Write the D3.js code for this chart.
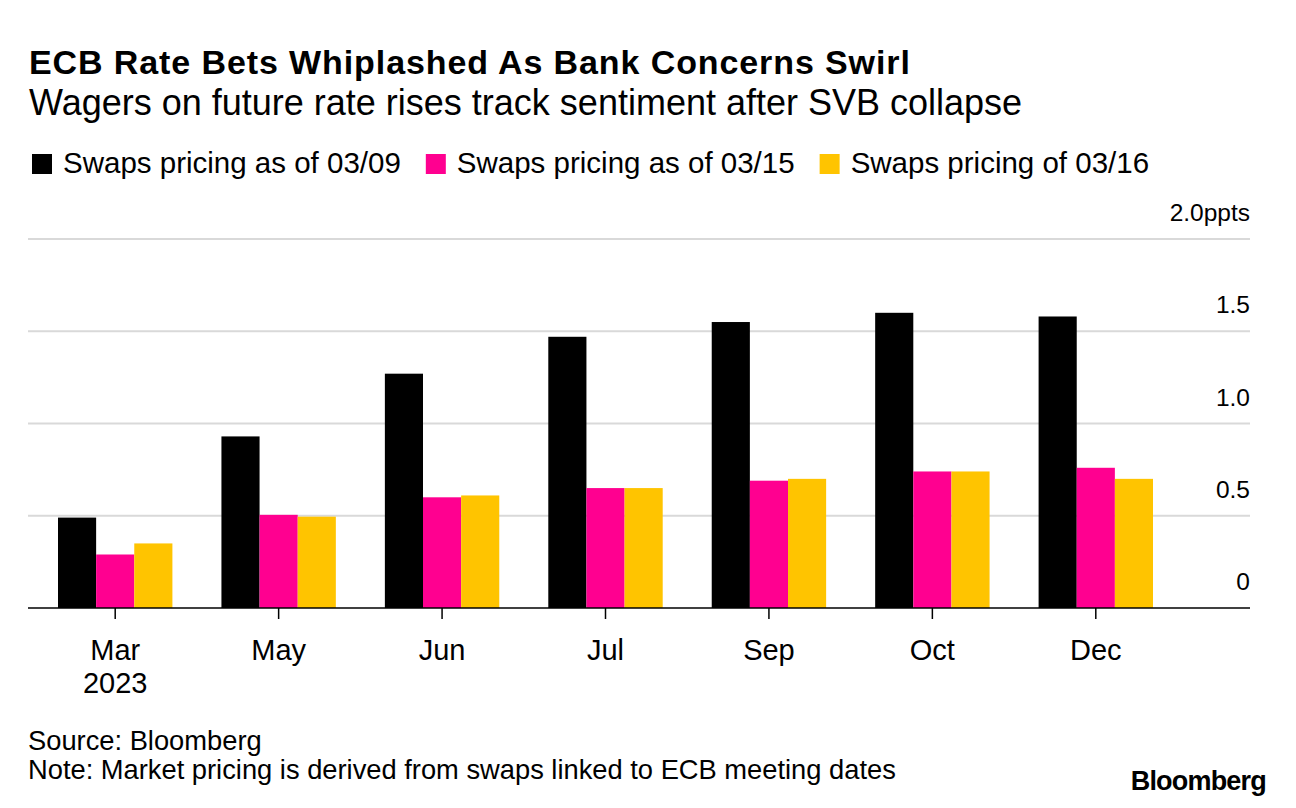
<!DOCTYPE html>
<html>
<head>
<meta charset="utf-8">
<script src="https://cdn.jsdelivr.net/npm/d3@7"></script>
<style>
  body { margin: 0; background: #fff; }
  svg { font-family: "Liberation Sans", Arial, sans-serif; }
</style>
</head>
<body>
<svg width="1296" height="808"></svg>
<script>
// data
const months = ["Mar", "May", "Jun", "Jul", "Sep", "Oct", "Dec"];
const seriesNames = ["Swaps pricing as of 03/09", "Swaps pricing as of 03/15", "Swaps pricing of 03/16"];
const pricing0309 = [0.49, 0.93, 1.27, 1.47, 1.55, 1.60, 1.58];
const pricing0315 = [0.29, 0.505, 0.60, 0.65, 0.69, 0.74, 0.76];
const pricing0316 = [0.35, 0.495, 0.61, 0.65, 0.70, 0.74, 0.70];
const yTicks = [0, 0.5, 1.0, 1.5, 2.0];
const colors = ["#000000", "#ff0090", "#ffc400"];

let width = 1296, height = 808;
let svg = d3.select("svg");

let series = [pricing0309, pricing0315, pricing0316];
let rows = months.map((m, i) => ({ month: m, values: series.map(s => s[i]) }));

let x = d3.scaleBand()
    .domain(months)
    .range([58, 1153])
    .paddingInner(0.3)
    .paddingOuter(0);

let xInner = d3.scaleBand()
    .domain(d3.range(series.length))
    .range([0, x.bandwidth()]);

let y = d3.scaleLinear()
    .domain([0, 2])
    .range([608, 239]);

// title block
svg.append("text")
    .attr("x", 29).attr("y", 74)
    .style("font-size", "34px").style("font-weight", "bold")
    .style("letter-spacing", "0.9px")
    .text("ECB Rate Bets Whiplashed As Bank Concerns Swirl");
svg.append("text")
    .attr("x", 29).attr("y", 115)
    .style("font-size", "36px")
    .text("Wagers on future rate rises track sentiment after SVB collapse");

// legend
let legend = svg.append("g").attr("transform", "translate(32,0)");
let lx = 0;
seriesNames.forEach((name, i) => {
  let item = legend.append("g").attr("transform", "translate(" + lx + ",0)");
  item.append("rect").attr("x", 0).attr("y", 154).attr("width", 20).attr("height", 20).attr("fill", colors[i]);
  let t = item.append("text").attr("x", 31).attr("y", 173).style("font-size", "29.5px").text(name);
  lx += 31 + t.node().getComputedTextLength() + 25;
});

// grid
svg.append("g")
    .selectAll("line")
    .data(yTicks.filter(d => d > 0))
    .enter()
    .append("line")
    .attr("x1", 28).attr("x2", 1250)
    .attr("y1", d => y(d)).attr("y2", d => y(d))
    .attr("stroke", "#d9d9d9").attr("stroke-width", 2);

svg.append("g")
    .selectAll("text")
    .data(yTicks)
    .enter()
    .append("text")
    .attr("x", 1250)
    .attr("y", d => y(d) - 18)
    .attr("text-anchor", "end")
    .style("font-size", "24.5px")
    .text(d => d == 0 ? "0" : d == 2 ? d.toFixed(1) + "ppts" : d.toFixed(1));

// bars
svg.append("g")
    .selectAll("g")
    .data(rows)
    .enter()
    .append("g")
    .attr("transform", d => "translate(" + x(d.month) + ",0)")
    .selectAll("rect")
    .data(d => d.values)
    .enter()
    .append("rect")
    .attr("x", (d, i) => xInner(i))
    .attr("width", xInner.bandwidth())
    .attr("y", d => y(d))
    .attr("height", d => y(0) - y(d))
    .attr("fill", (d, i) => colors[i]);

// x axis
let xAxis = d3.axisBottom(x).tickSize(11).tickSizeOuter(0).tickPadding(20);
let ax = svg.append("g")
    .attr("transform", "translate(0," + y(0) + ")")
    .call(xAxis);
ax.select(".domain").remove();
ax.selectAll(".tick line").attr("stroke", "#000").attr("stroke-width", 1.5);
ax.selectAll(".tick text")
    .style("font-size", "29px")
    .attr("font-family", "Liberation Sans, Arial, sans-serif")
    .attr("fill", "#000");
ax.selectAll(".tick").filter(d => d == "Mar")
    .append("text")
    .attr("y", 85)
    .attr("text-anchor", "middle")
    .style("font-size", "29px")
    .attr("fill", "#000")
    .text("2023");
svg.append("line")
    .attr("x1", 28).attr("x2", 1250)
    .attr("y1", y(0)).attr("y2", y(0))
    .attr("stroke", "#000").attr("stroke-width", 1.5);

// footer
svg.append("text").attr("x", 28).attr("y", 750).style("font-size", "27.3px").text("Source: Bloomberg");
svg.append("text").attr("x", 28).attr("y", 779).style("font-size", "27.3px").text("Note: Market pricing is derived from swaps linked to ECB meeting dates");
svg.append("text").attr("x", 1266).attr("y", 790).attr("text-anchor", "end")
    .style("font-size", "27px").style("font-weight", "bold").style("letter-spacing", "-0.8px")
    .text("Bloomberg");
</script>
</body>
</html>
